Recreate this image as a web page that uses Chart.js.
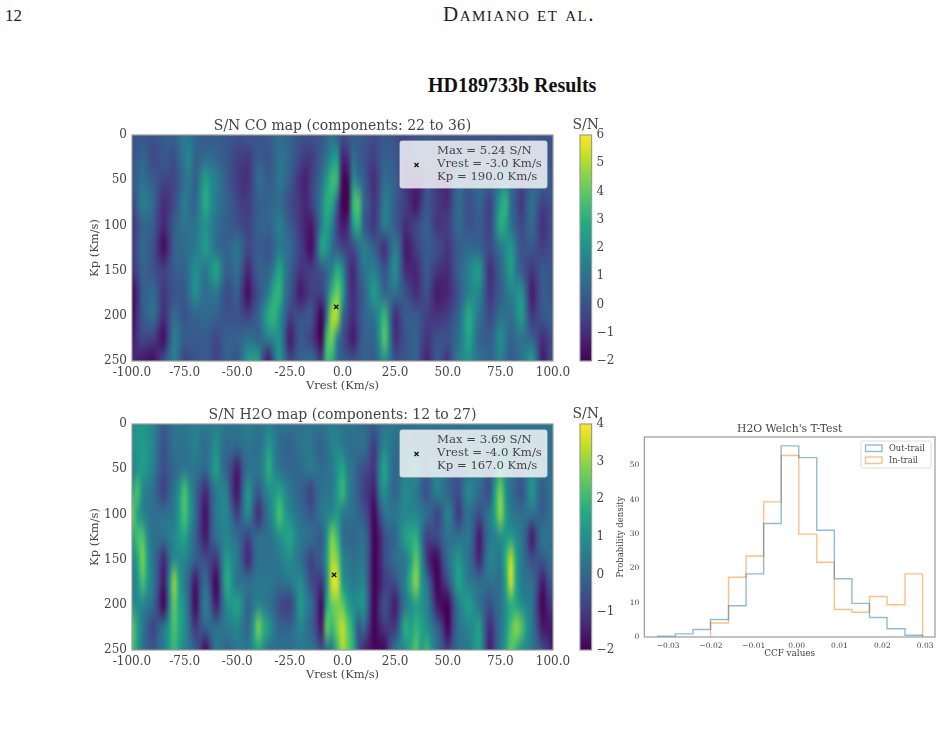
<!DOCTYPE html>
<html>
<head>
<meta charset="utf-8">
<title>HD189733b Results</title>
<script src="https://cdn.jsdelivr.net/npm/chart.js@4/dist/chart.umd.min.js"></script>
<style>
    html, body { margin: 0; background: #fff; width: 943px; height: 732px; overflow: hidden; }
    canvas { position: absolute; }
    .page-text { position: absolute; color: #222; font-family: "Liberation Serif", serif; white-space: nowrap; }
    #page-no { left: 5px; top: 6px; font-size: 17px; }
    #running-head { left: 443px; top: 2px; font-size: 21px; font-variant: small-caps; letter-spacing: 1.5px; }
    #fig-title { left: 428px; top: 74px; font-size: 20px; font-weight: bold; color: #111; }
</style>
</head>
<body>
<div class="page-text" id="page-no">12</div>
<div class="page-text" id="running-head">Damiano et al.</div>
<div class="page-text" id="fig-title">HD189733b Results</div>

<canvas id="co-map"></canvas>
<canvas id="co-bar"></canvas>
<canvas id="h2o-map"></canvas>
<canvas id="h2o-bar"></canvas>
<canvas id="welch"></canvas>

<script>
// S/N grid axes (Km/s)
const vrest = [
    -100,-97.5,-95,-92.5,-90,-87.5,-85,-82.5,-80,-77.5,-75,-72.5,-70,-67.5,-65,-62.5,-60,-57.5,-55,-52.5,
    -50,-47.5,-45,-42.5,-40,-37.5,-35,-32.5,-30,-27.5,-25,-22.5,-20,-17.5,-15,-12.5,-10,-7.5,-5,-2.5,
    0,2.5,5,7.5,10,12.5,15,17.5,20,22.5,25,27.5,30,32.5,35,37.5,40,42.5,45,47.5,
    50,52.5,55,57.5,60,62.5,65,67.5,70,72.5,75,77.5,80,82.5,85,87.5,90,92.5,95,97.5,100
];
const kp = [0,25,50,75,100,125,150,175,200,225,250];

// CO map, one row per Kp
const coSN = [
    [0,.1,.2,.1,0,.1,.3,.4,.5,.9,1.2,1,.7,.4,.2,.2,.3,.3,.2,.1,0,.1,.3,.1,0,.1,.3,.6,.8,.7,.5,.2,0,0,0,.1,.2,.6,1,.4,0,.1,.3,.3,.3,0,-.2,0,.2,.1,0,-.2,-.3,-.1,0,.1,.2,.1,0,.1,.2,.1,0,0,0,0,0,.1,.2,.1,0,0,0,0,0,.1,.2,.1,0,0,0],
    [0,.3,.6,.2,-.3,-.1,.2,.1,-.2,.6,1.4,1.6,.5,.5,.8,.8,.6,.3,.2,-.2,-.5,-.6,-.7,-.2,.3,.2,0,.5,1,.9,.6,.1,-.3,-.7,-.7,-.2,.3,1,2,2.3,-1.2,-.8,.8,.3,0,-.3,-.5,0,.5,.4,.2,-.2,-.6,-.2,.2,.1,0,0,0,0,-.3,0,.3,.2,0,.1,.3,.2,.2,0,-.3,0,.2,0,-.2,-.1,0,.1,.2,.1,0],
    [.2,.6,1,.6,.3,0,-.3,-.4,-.3,.2,.9,1.2,.3,1.5,2.6,1.8,1.5,.8,.3,-.2,-.6,-.9,-.9,-.1,.8,.7,.3,.6,1.2,.8,.3,-.4,-1,-1.3,-.6,0,1,2.3,3.5,3.2,-1.8,-1.8,1.8,1,.5,-.5,-1,-.2,.8,.7,.5,-.2,-.8,-1,-1,-1.2,.3,-.2,-.8,-1,-1.2,-.2,.8,.5,.3,.6,.8,.7,.6,.7,1.2,1.2,.8,.2,-.3,0,.4,.7,.6,.4,.2],
    [-.5,.6,1.5,1.2,.8,-.3,-1,-.8,-.2,.6,1.5,.8,.5,1.8,3,2,1.2,.8,.5,.2,-.3,-.6,-.6,-.1,.3,.5,.6,.7,.8,.3,-.2,-.5,-.8,-1.2,-.5,.3,1.5,3,2.8,.3,-2,-2,3.3,3.8,.8,0,-.8,0,1.5,1,.3,-.2,-.5,-1.2,-1.6,-.7,.2,-.3,-.6,-.9,-1,0,.8,.3,-.2,.2,.6,0,-.6,.8,2.5,3.2,.8,0,-.8,.2,1,.3,-.5,-.2,0],
    [-1,-.2,.5,.6,.3,-.5,-1.2,-.5,.3,.8,1,1,1,1.6,2,1.5,1,.6,.3,.2,0,-.3,-.5,0,.5,.6,.5,1,1.5,.9,.3,-.2,-.8,-1.3,-1.5,-.5,1.5,2.6,1.5,-.5,-1.5,-1,2.2,3,.3,-.4,-.8,.3,1.5,.9,.3,-.3,-1,-.6,-.3,.1,.5,-.2,-.8,-.7,-.5,.1,.8,.4,0,.1,.3,-.1,-.5,1.2,3,2.5,1,.3,-.3,.3,.8,-.1,-1,-.5,0],
    [-.8,0,.8,.4,0,-1,-1.8,-.8,.5,.7,.8,1,1.2,1.8,2.5,1.6,.8,.6,.5,.8,1.2,.5,-.3,0,.3,.1,0,.6,1.2,1,.8,.2,-.5,-1.2,-1.8,-.2,2.8,2.2,.8,.2,-.3,-.5,-.3,.6,1.5,1,.5,-.3,-1,.3,1.5,.3,-1.5,-1.2,-.5,-.1,.3,.2,0,-.4,-.8,-.2,.3,.5,.8,.7,.5,.1,-.3,.3,1,1.8,2.3,1,0,.1,.2,-.2,-.5,-.2,0],
    [-1,-.3,.5,.3,0,-.3,-.5,-.1,.3,.4,.5,1.2,2,1.5,1,2,2.8,1.5,.3,.6,1,-.1,-1.2,-.3,.5,.5,.5,1.5,2.8,1.5,.5,-.2,-.8,-.6,-.5,-.3,0,.6,1.5,3,2,-.3,-1.2,0,1,1.3,1.5,.8,0,1,2,.5,-1,-1.2,-1.2,-.4,.3,-.3,-.8,-1,-1,-.3,.5,1,1.5,2.2,2.5,.5,-1,-.3,.5,1.5,2.5,1.2,.3,-.3,-.8,-.3,.3,.1,0],
    [-2,-1,.4,.6,.8,0,-.8,-.4,0,.1,.2,1,2,1.3,.8,1,1.2,.4,-.3,.1,.5,-.8,-1.8,-.8,0,.6,1.5,3,3.2,1.2,.3,-.7,-1.5,-1,-.5,-.5,-.5,.8,3.2,4.3,2.8,-.2,-1,-.3,.3,1.5,2.5,1.5,.5,.8,1,.5,0,-.5,-1,-.5,0,-.8,-1.5,-1.3,-1.2,-.6,0,.8,1.5,1.8,1.5,.3,-.8,-.3,.3,.9,1.5,1.8,2.2,.2,-1.5,-.6,.3,.2,0],
    [-2,-.8,.2,.6,1,0,-1,-.2,.8,.4,0,.3,.5,.6,.8,.7,.5,.2,0,0,0,-.3,-.5,0,.5,1.8,3,3.2,2,.7,-.5,-.2,0,.2,.3,-1,-2,1,5,5,1,-.3,-1,-.3,.5,.8,1,2.2,3.4,1,-1,-.4,.3,.3,.3,-.1,-.5,-.7,-.8,-.7,-.5,0,.5,1.8,3,2,1,.3,-.3,.3,1,.9,.8,1.6,2.5,.8,-.8,-.3,.2,.4,.5],
    [-1.5,-.8,-.2,-.4,-.5,-1.2,-1.8,-.2,1.5,.9,.3,.3,.3,.3,.3,0,-.3,.1,.5,.5,.5,.7,1,.8,.5,1,1.5,1.8,2,.2,-1.5,-.6,.3,-.1,-.5,-1.3,-2,3.5,4.3,1.5,0,-.8,-1.5,-.5,.5,.5,.5,2,4,1.5,-1,-.5,0,.3,.5,-.2,-.8,-.4,0,0,0,.4,.8,1.8,2.8,1.5,.5,.4,.3,1,2,1.2,.5,.8,1,.8,.5,-.2,-1,-.5,0],
    [-1,-1.3,-1.5,-1.7,-1.8,-1,0,.8,1.5,.5,-.5,-.2,0,.2,.3,-.1,-.5,0,.5,.2,0,1.2,2.3,2.6,2.5,-.5,-1.5,.5,2.3,1,-.3,.1,.5,.8,1,.3,-.5,3.5,3,1,.3,.2,0,.3,.5,.4,.3,1.2,2,1,0,.1,.2,.4,.5,-.5,-1.3,-.5,.3,-.3,-.8,.4,1.5,1.8,2,1.5,1,.8,.5,1,1.5,.8,.2,.6,1,1.8,2.5,.5,-1.5,-.8,0]
];

// H2O map, one row per Kp
const h2oSN = [
    [.8,1,1.1,1,.7,.2,-.3,0,.2,.3,.4,.5,.6,.5,.4,.5,.6,.5,.3,.3,.3,.4,.6,.5,.3,.4,.5,.4,.2,.3,.3,.2,.2,.3,.3,.3,.3,.4,.5,.4,.3,.3,.3,.1,0,-.1,-.2,.1,.3,.4,.4,.3,.2,.2,.3,.3,.3,.3,.3,.3,.3,.3,.3,.3,.3,.3,.3,.3,.3,.3,.3,.3,.3,.3,.3,.3,.3,.3,.3,.3,.3],
    [1,1.2,1.3,1,.7,0,-.6,-.1,.3,.2,.2,.4,.6,.3,.1,.5,1,.3,0,.1,0,.2,.3,.2,.1,.6,1.3,.6,.1,-.1,-.2,.1,.3,.4,.3,0,-.2,.2,.6,.8,.4,.2,.1,.2,.3,-.3,-1,0,.8,.4,.1,.1,.1,.2,-.1,.1,.2,0,-.4,0,.3,0,-.3,0,.2,.3,.3,.1,-.2,.2,.7,.4,.3,.2,.1,.1,.2,.2,.3,.3,.3],
    [.5,1,1.3,1,.6,-.1,-.6,-.3,-.1,.2,.4,.3,.3,.1,0,.7,1.4,.4,-.2,-.9,-1.6,-.5,.2,.3,.3,.8,1.8,.8,.3,.1,0,-.1,0,.3,.5,.3,.1,.2,.4,1,1.6,.5,.3,-.3,-.6,-.8,-1.1,.5,1.6,.5,-.1,.2,.4,.7,1,.2,-.1,.3,.5,.3,.2,-.2,-.4,0,.2,.3,.4,-.1,-.3,.5,1.5,.6,.2,0,-.2,.3,.7,.3,.2,.2,.2],
    [1.5,2.3,.8,.4,.2,-.4,-.9,-.3,.3,1.2,2.3,1,.1,-.8,-1.4,-.3,.4,.7,.6,-1,-1.7,-.2,1.2,.3,-.4,.3,.8,1.2,1.5,.9,.4,.1,-.1,-.5,-.9,-.2,.2,.3,.4,1.2,2,.8,.2,-.3,-.9,-1.2,-1.5,.3,1,.3,-.1,.4,.9,.6,.4,-.2,-.6,.1,.7,.3,-.1,-.4,-.6,.2,.9,.5,.1,-.4,-.6,1.5,2.8,1,.2,-.2,-.6,.3,1.2,.4,-.4,.1,.4],
    [2.8,1.5,.7,.4,.2,.2,.2,.3,.4,1.4,2.3,1.2,.2,-1,-1.8,-.5,.4,.7,.7,-.1,-.9,.1,.9,-.3,-1.3,-.4,.4,1.3,2.3,1.4,.7,.4,.1,-.1,-.4,0,.4,.6,.8,1.2,.4,.3,.2,0,-.4,-1,-2,-.8,.2,.4,.4,.6,.7,.7,.7,.5,.2,-.3,-.9,-.1,.7,0,-1.1,-.2,.2,-.2,-.6,0,.4,1.6,3,1.4,.4,.3,.2,.2,.2,0,-.3,.1,.4],
    [1.4,2.2,2.3,.8,.2,.2,.2,.5,.7,1.2,1.5,.6,-.1,-1,-1.6,-.5,.2,.5,.7,.4,.2,-.4,-.9,-.2,.2,.2,.2,.5,.9,1.3,1.6,.9,.4,.3,.2,-.1,-.4,1,2.8,2,.2,0,-.1,.1,.2,-.6,-2,-1.5,-.6,-.3,-.1,.7,1.5,1.7,1.8,.4,-.9,-.7,-.6,-.1,.2,.2,.2,.3,.4,-.5,-1.6,-.5,.4,.6,.9,1.1,1.3,.8,.4,-.5,-1.6,-.5,.4,.3,.2],
    [.7,1.5,2.8,1.2,.2,-.5,-1.4,-.2,.9,.8,.7,.3,-.1,-.4,-.6,-.9,-1.1,.2,1.3,.8,.4,-.5,-1.4,-.5,.2,.2,.2,.3,.4,.7,.9,.5,.2,-.3,-.9,-.4,-.1,1.2,3.2,2.8,.8,.4,.2,.3,.4,-.6,-2,-1.5,-.6,-.2,.2,.3,.4,1.4,2.5,1,-1,-1.8,-1.9,-.8,.2,.7,1.2,.6,.2,-.6,-1.4,-.2,.7,.6,.4,1.8,3.4,1.5,.4,-.1,-.6,-.5,-.4,0,.2],
    [.4,1,2.2,1.2,.4,-.6,-1.6,.4,3,1.3,.4,-.5,-1.7,-.6,.2,-1,-2,-.1,1.8,1,.2,.3,.2,.3,.4,.4,.4,.3,.1,.3,.4,.7,.9,.2,-.6,-.9,-1.1,.8,3.6,3.7,1.2,.7,.4,.6,.7,-.6,-2,-1.6,-1,-.8,-.6,.1,.7,2,3,1.2,.4,-1,-2,-1.3,-.6,.5,1.5,1,.4,.3,.2,.2,.2,.2,.2,1.5,3.6,1.5,.4,.3,.2,-.6,-1.6,-.8,-.1],
    [.9,.8,.7,.4,.1,-1,-2,.2,2.5,1.5,.9,-.4,-1.9,-.5,.7,-.4,-1.6,-.3,.9,1.2,1.5,.7,-.1,.3,.7,.5,.2,-.1,-.6,-.9,-.9,0,1.3,.7,.2,-.8,-1.9,1.5,2.6,2.8,2.5,1.5,.9,.9,1.1,-.4,-2,-1.2,-.4,-1,-1.6,-.5,.4,.9,1.4,1,.7,-.4,-1.6,-1.9,-2,-.8,.4,1,1.4,.8,.2,-.2,-.6,-.1,.2,1,1.7,1.5,.9,.6,.4,-1,-2,-1.4,-.9],
    [2.6,1.5,.4,-.3,-.9,-.2,.4,1.2,2.3,1.6,.9,0,-1.1,-.5,-.1,.1,.2,.3,.4,.6,.7,.3,-.1,1.2,2.8,1.8,1.2,.4,-.1,-.1,-.1,.3,.7,.3,-.1,-.8,-1.6,2.5,2,2.8,3.5,2.5,1.5,-.5,.2,-1,-2,-1.5,-1,-1,-1,.3,1.8,1.3,1.9,1.5,.9,.4,-.1,-1,-2,-.8,.2,.5,.7,1,1.4,-.2,-1.3,-.5,.2,1,2.2,3,2.4,1.2,.4,-.6,-1.6,-1.6,-1.6],
    [2.3,1.3,.2,-.1,-.4,0,.4,1.2,2,1.3,.7,.3,-.1,-1,-1.9,-.7,.4,.2,-.1,.2,.4,.4,.4,.9,1.4,.8,.2,.2,.2,.2,.2,.3,.4,.4,.4,0,-.6,0,.4,2,3.2,2.6,1.8,-.3,-1.3,-1.6,-1.9,-1.9,-1.9,-.6,.4,.7,.9,1.7,2.4,1.2,2,1,.2,-.4,-1,-.3,.2,.3,.4,1,1.4,-.1,-1.6,-.5,.4,1.4,2.5,1.8,.9,.7,.4,0,-.6,-1,-1.6]
];

// viridis control colours, low to high
const viridis = ['#440154','#482475','#414487','#355f8d','#2a788e','#21918c','#22a884','#44bf70','#7ad151','#bddf26','#fde725'];

// histogram bin edges and densities
const ccfEdges = [-0.0324,-0.0283,-0.0242,-0.0201,-0.0159,-0.0118,-0.0077,-0.0036,0.0005,0.0047,0.0088,0.0129,0.0170,0.0211,0.0253,0.0294];
const outTrail = [0.2,0.9,2.2,5.1,9.1,18.4,33.1,55.7,52.3,31.1,17,9.8,5.7,2.4,0.5];
const inTrailEdges = ccfEdges.slice(3);
const inTrail = [4.1,17.4,23.6,39.4,52.9,30,21.8,8,7.2,11.8,9.4,18.4];
const ccfTicks = [-0.03,-0.02,-0.01,0,0.01,0.02,0.03];
const densityTicks = [0,10,20,30,40,50];

const SERIF = '"DejaVu Serif", serif';
const INK = '#444';
const SPINE = '#999';

Chart.defaults.font.family = SERIF;
Chart.defaults.color = INK;
Chart.defaults.animation = false;

const hexRgb = (hex) => [1, 3, 5].map(i => parseInt(hex.slice(i, i + 2), 16));

const colourFor = (v, lo, hi) => {
    const t = Math.min(1, Math.max(0, (v - lo) / (hi - lo))) * (viridis.length - 1);
    const i = Math.min(viridis.length - 2, Math.floor(t));
    const a = hexRgb(viridis[i]);
    const b = hexRgb(viridis[i + 1]);
    return a.map((c, k) => Math.round(c + (b[k] - c) * (t - i)));
};

// Paints dataset 0 as an image of cells, placed through the x and y scales
const heatPlugin = {
    id: 'heat',
    beforeDatasetsDraw(chart, args, opts) {
        const cells = chart.data.datasets[0].data;
        const { cols, rows, lo, hi, dx, dy } = opts;
        const off = document.createElement('canvas');
        off.width = cols;
        off.height = rows;
        const offCtx = off.getContext('2d');
        const img = offCtx.createImageData(cols, rows);
        cells.forEach((cell, n) => {
            const [r, g, b] = colourFor(cell.v, lo, hi);
            img.data.set([r, g, b, 255], n * 4);
        });
        offCtx.putImageData(img, 0, 0);

        const { x, y } = chart.scales;
        const x0 = x.getPixelForValue(cells[0].x - dx / 2);
        const x1 = x.getPixelForValue(cells[cells.length - 1].x + dx / 2);
        const y0 = y.getPixelForValue(cells[0].y - dy / 2);
        const y1 = y.getPixelForValue(cells[cells.length - 1].y + dy / 2);
        const { left, top, width, height } = chart.chartArea;
        const ctx = chart.ctx;
        ctx.save();
        ctx.beginPath();
        ctx.rect(left, top, width, height);
        ctx.clip();
        ctx.imageSmoothingEnabled = true;
        ctx.imageSmoothingQuality = 'high';
        ctx.drawImage(off, x0, y0, x1 - x0, y1 - y0);
        ctx.restore();
    }
};

// Box around the plot area
const framePlugin = {
    id: 'frame',
    afterDatasetsDraw(chart) {
        const { left, top, width, height } = chart.chartArea;
        const ctx = chart.ctx;
        ctx.save();
        ctx.strokeStyle = SPINE;
        ctx.lineWidth = 1.2;
        ctx.strokeRect(left, top, width, height);
        ctx.restore();
    }
};

// S/N caption centred over a colour bar, wider than the bar itself
const barCaptionPlugin = {
    id: 'barCaption',
    afterDraw(chart) {
        const { left, right, top } = chart.chartArea;
        const ctx = chart.ctx;
        ctx.save();
        ctx.fillStyle = INK;
        ctx.font = '14px ' + SERIF;
        ctx.textAlign = 'center';
        ctx.textBaseline = 'middle';
        ctx.fillText('S/N', (left + right) / 2, top - 10);
        ctx.restore();
    }
};

// Translucent note in the corner of a map, with the peak marker and its readings
const peakNotePlugin = {
    id: 'peakNote',
    afterDraw(chart, args, opts) {
        const ctx = chart.ctx;
        const { right, top } = chart.chartArea;
        const bx = right - 153;
        const by = top + opts.inset;
        ctx.save();
        ctx.fillStyle = 'rgba(255,255,255,0.8)';
        ctx.strokeStyle = 'rgba(220,220,220,0.8)';
        ctx.beginPath();
        ctx.roundRect(bx, by, 147, 47, 2);
        ctx.fill();
        ctx.stroke();

        ctx.strokeStyle = '#111';
        ctx.lineWidth = 1.4;
        const mx = bx + 16.5;
        const my = by + 24;
        ctx.beginPath();
        ctx.moveTo(mx - 2, my - 2); ctx.lineTo(mx + 2, my + 2);
        ctx.moveTo(mx + 2, my - 2); ctx.lineTo(mx - 2, my + 2);
        ctx.stroke();

        ctx.fillStyle = INK;
        ctx.font = '11.7px ' + SERIF;
        ctx.textBaseline = 'middle';
        opts.lines.forEach((line, i) => ctx.fillText(line, bx + 37, by + 9.5 + i * 13.3));
        ctx.restore();
    }
};

// Histogram key, taken from the dataset labels and colours
const stepKeyPlugin = {
    id: 'stepKey',
    afterDatasetsDraw(chart) {
        const { right, top } = chart.chartArea;
        const bx = right - 74;
        const by = top + 4;
        const ctx = chart.ctx;
        ctx.save();
        ctx.fillStyle = 'rgba(255,255,255,0.8)';
        ctx.strokeStyle = '#ddd';
        ctx.lineWidth = 1;
        ctx.beginPath();
        ctx.roundRect(bx, by, 70, 27, 2);
        ctx.fill();
        ctx.stroke();
        ctx.font = '8.3px ' + SERIF;
        ctx.textBaseline = 'middle';
        chart.data.datasets.forEach((ds, i) => {
            const y = by + 4 + i * 12;
            ctx.strokeStyle = ds.borderColor;
            ctx.lineWidth = ds.borderWidth;
            ctx.strokeRect(bx + 4.5, y, 16.5, 6.5);
            ctx.fillStyle = INK;
            ctx.fillText(ds.label, bx + 28, y + 3.5);
        });
        ctx.restore();
    }
};

const sizeCanvas = (id, left, top, width, height) => {
    const canvas = document.getElementById(id);
    canvas.style.left = left + 'px';
    canvas.style.top = top + 'px';
    canvas.width = width;
    canvas.height = height;
    return canvas;
};

const gridCells = (values) => {
    const cells = [];
    kp.forEach((k, r) => vrest.forEach((v, c) => cells.push({ x: v, y: k, v: values[r][c] })));
    return cells;
};

const drawMap = (id, top, titleText, values, peak, noteLines, hi) => {
    const canvas = sizeCanvas(id, 88, top - 25, 490, 290);
    new Chart(canvas, {
        type: 'scatter',
        data: {
            datasets: [
                { data: gridCells(values), pointRadius: 0 },
                { data: [peak], pointStyle: 'crossRot', pointRadius: 3, borderColor: '#111', borderWidth: 1.4 }
            ]
        },
        options: {
            responsive: false,
            layout: { padding: { left: 0, right: 25, top: 0, bottom: 7 } },
            plugins: {
                legend: { display: false },
                tooltip: { enabled: false },
                title: {
                    display: true,
                    fullSize: false,
                    text: titleText,
                    color: INK,
                    font: { size: 14, weight: 'normal', lineHeight: '16px' },
                    padding: { top: 8, bottom: 1 }
                },
                heat: { cols: vrest.length, rows: kp.length, lo: -2, hi, dx: 2.5, dy: 25 },
                peakNote: { lines: noteLines, inset: 6 }
            },
            scales: {
                x: {
                    type: 'linear', min: -100, max: 100,
                    afterFit(scale) { scale.height = 32; scale.paddingLeft = 0; scale.paddingRight = 0; },
                    grid: { display: false, tickLength: 4, drawTicks: true },
                    border: { display: false },
                    ticks: {
                        stepSize: 25, autoSkip: false, maxRotation: 0, padding: 1,
                        font: { size: 12 }, color: INK,
                        callback: v => v.toFixed(1)
                    },
                    title: { display: true, text: 'Vrest (Km/s)', color: INK, font: { size: 11.5 }, padding: 0 }
                },
                y: {
                    type: 'linear', min: 0, max: 250, reverse: true,
                    afterFit(scale) { scale.width = 44; },
                    grid: { display: false, tickLength: 4 },
                    border: { display: false },
                    ticks: { stepSize: 50, padding: 1, font: { size: 12 }, color: INK },
                    title: { display: true, text: 'Kp (Km/s)', color: INK, font: { size: 11.5 }, padding: 0 }
                }
            }
        },
        plugins: [heatPlugin, framePlugin, peakNotePlugin]
    });
};

const drawColourBar = (id, top, lo, hi) => {
    const canvas = sizeCanvas(id, 555, top - 25, 61, 265);
    const levels = [];
    for (let v = hi; v >= lo - 1e-6; v -= 0.1) levels.push(v);
    new Chart(canvas, {
        type: 'scatter',
        data: { datasets: [{ data: levels.map(v => ({ x: 0.5, y: v, v })), pointRadius: 0 }] },
        options: {
            responsive: false,
            layout: { padding: { left: 25, right: 0, top: 25, bottom: 14 } },
            plugins: {
                legend: { display: false },
                tooltip: { enabled: false },
                heat: { cols: 1, rows: levels.length, lo, hi, dx: 1, dy: -0.1 }
            },
            scales: {
                x: { type: 'linear', min: 0, max: 1, display: false },
                y: {
                    type: 'linear', position: 'right', min: lo, max: hi,
                    afterFit(scale) { scale.width = 24.4; },
                    grid: { display: false, tickLength: 3 },
                    border: { display: false },
                    ticks: {
                        stepSize: 1, padding: 2, font: { size: 12 }, color: INK,
                        callback: v => String(v).replace('-', '\u2212')
                    }
                }
            }
        },
        plugins: [heatPlugin, framePlugin, barCaptionPlugin]
    });
};

// Outline of a step histogram: each value holds over the bin that ends at the next edge
const stepOutline = (edges, values) => {
    const pts = [{ x: edges[0], y: 0 }];
    values.forEach((v, i) => pts.push({ x: edges[i + 1], y: v }));
    pts.push({ x: edges[edges.length - 1], y: 0 });
    return pts;
};

const drawWelch = () => {
    const canvas = sizeCanvas('welch', 616, 415, 327, 265);
    new Chart(canvas, {
        type: 'scatter',
        data: {
            datasets: [
                {
                    label: 'Out-trail', data: stepOutline(ccfEdges, outTrail), showLine: true, stepped: 'after',
                    pointRadius: 0, borderColor: 'rgba(31,119,180,0.5)', borderWidth: 1.4
                },
                {
                    label: 'In-trail', data: stepOutline(inTrailEdges, inTrail), showLine: true, stepped: 'after',
                    pointRadius: 0, borderColor: 'rgba(255,127,14,0.5)', borderWidth: 1.4
                }
            ]
        },
        options: {
            responsive: false,
            layout: { padding: { left: 0, right: 8, top: 0, bottom: 21 } },
            plugins: {
                legend: { display: false },
                tooltip: { enabled: false },
                title: {
                    display: true, fullSize: false, text: "H2O Welch's T-Test", color: INK,
                    font: { size: 10.8, weight: 'normal', lineHeight: '13px' },
                    padding: { top: 8, bottom: 1 }
                }
            },
            scales: {
                x: {
                    type: 'linear', min: -0.03556, max: 0.0323,
                    afterFit(scale) { scale.height = 22; scale.paddingLeft = 0; scale.paddingRight = 0; },
                    afterBuildTicks(scale) { scale.ticks = ccfTicks.map(value => ({ value })); },
                    grid: { display: false, tickLength: 3 },
                    border: { display: false },
                    ticks: {
                        autoSkip: false, maxRotation: 0, padding: 2, font: { size: 7.5 }, color: INK,
                        callback: v => v.toFixed(2).replace('-', '\u2212')
                    },
                    title: { display: true, text: 'CCF values', color: INK, font: { size: 8.8 }, padding: 0 }
                },
                y: {
                    type: 'linear', min: 0, max: 58.3,
                    afterFit(scale) { scale.width = 28.3; },
                    afterBuildTicks(scale) { scale.ticks = densityTicks.map(value => ({ value })); },
                    grid: { display: false, tickLength: 3 },
                    border: { display: false },
                    ticks: { padding: 2, font: { size: 7.5 }, color: INK },
                    title: { display: true, text: 'Probability density', color: INK, font: { size: 8.5 }, padding: 0 }
                }
            }
        },
        plugins: [framePlugin, stepKeyPlugin]
    });
};

drawMap('co-map', 135, 'S/N CO map (components: 22 to 36)', coSN, { x: -3, y: 190 },
    ['Max = 5.24 S/N', 'Vrest = -3.0 Km/s', 'Kp = 190.0 Km/s'], 6);
drawColourBar('co-bar', 135, -2, 6);
drawMap('h2o-map', 424, 'S/N H2O map (components: 12 to 27)', h2oSN, { x: -4, y: 167 },
    ['Max = 3.69 S/N', 'Vrest = -4.0 Km/s', 'Kp = 167.0 Km/s'], 4);
drawColourBar('h2o-bar', 424, -2, 4);
drawWelch();
</script>
</body>
</html>
